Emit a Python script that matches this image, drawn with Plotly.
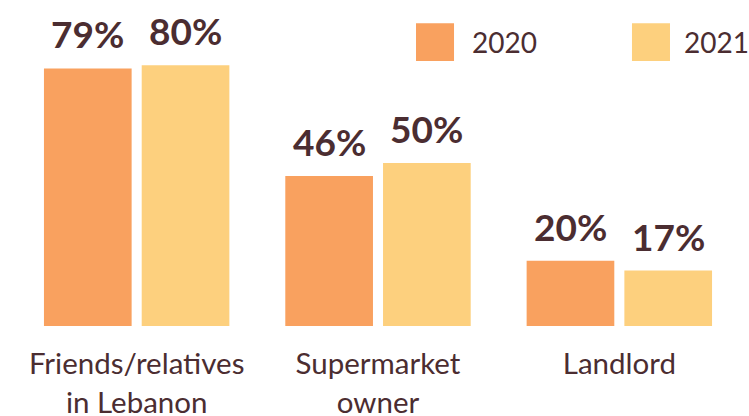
import plotly.graph_objects as go

categories = ["Friends/relatives<br>in Lebanon", "Supermarket<br>owner", "Landlord"]
series_names = ["2020", "2021"]
values_2020 = [79, 46, 20]
values_2021 = [80, 50, 17]

colors = {"2020": "#F9A15F", "2021": "#FDD07E"}
text_color = "#4B2D31"

W, H = 749, 416
ML, MR, MT, MB = 16, 9, 0, 90
BARGAP = 0.19
BARGROUPGAP = 0.103

fig = go.Figure()
all_vals = [values_2020, values_2021]
for name, vals in zip(series_names, all_vals):
    fig.add_trace(go.Bar(
        x=categories, y=vals, name=name,
        marker=dict(color=colors[name], line=dict(width=0)),
        showlegend=False,
        hoverinfo="skip",
    ))

# value labels above bars
cat_px = (W - ML - MR) / len(categories)
slot_px = cat_px * (1 - BARGAP) / len(series_names)
for j, vals in enumerate(all_vals):
    offset = (j - (len(series_names) - 1) / 2) * slot_px
    for cat, v in zip(categories, vals):
        fig.add_annotation(x=cat, y=v, xref="x", yref="y", text=f"{v}%",
                           showarrow=False, xanchor="center", yanchor="bottom",
                           xshift=offset, yshift=10,
                           font=dict(family="Lato", size=37, color=text_color, weight="bold"))

# Legend drawn as shapes + annotations
legend_items = [
    ("2020", 0.5525, 0.605, 0.627),
    ("2021", 0.8508, 0.9033, 0.920),
]
for name, x0, x1, xt in legend_items:
    fig.add_shape(type="rect", xref="paper", yref="paper",
                  x0=x0, x1=x1, y0=0.8129, y1=0.929,
                  fillcolor=colors[name], line=dict(width=0))
    fig.add_annotation(xref="paper", yref="paper", x=xt, y=0.871,
                       text=name, showarrow=False, xanchor="left", yanchor="middle",
                       font=dict(family="Lato", size=28, color=text_color))

fig.update_layout(
    width=W, height=H,
    margin=dict(l=ML, r=MR, t=MT, b=MB, autoexpand=False),
    paper_bgcolor="white", plot_bgcolor="white",
    barmode="group", bargap=BARGAP, bargroupgap=BARGROUPGAP,
    font=dict(family="Lato", color=text_color),
    xaxis=dict(showline=False, showgrid=False, zeroline=False, automargin=False,
               ticks="outside", ticklen=12, tickcolor="rgba(0,0,0,0)",
               tickfont=dict(family="Lato", size=29.5, color=text_color)),
    yaxis=dict(visible=False, range=[0, 100], showgrid=False, zeroline=False,
               automargin=False),
)

fig.write_html("out.html", config={"displayModeBar": False},
               post_script="document.body.style.margin='0';document.body.style.overflow='hidden';")
